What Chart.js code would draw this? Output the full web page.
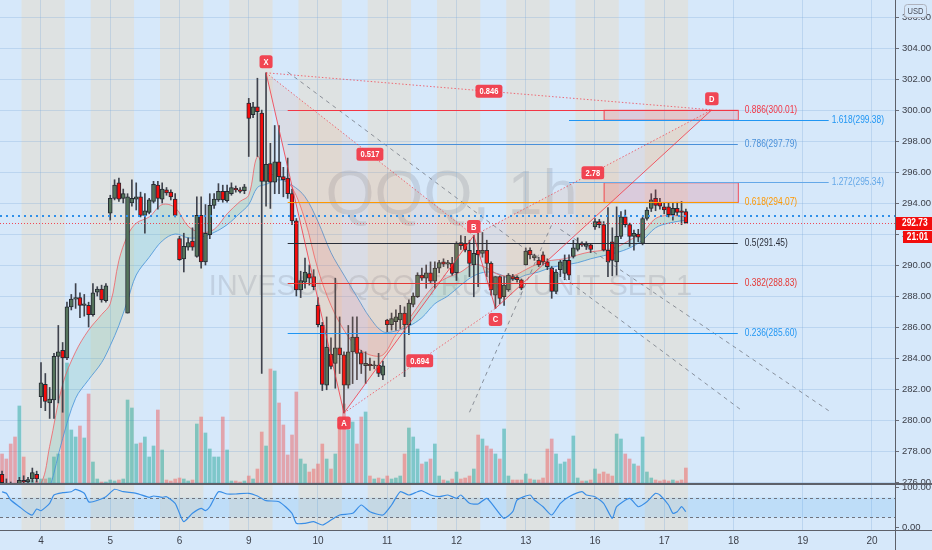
<!DOCTYPE html>
<html><head><meta charset="utf-8">
<script src="https://cdn.jsdelivr.net/npm/chart.js@4.4.1/dist/chart.umd.min.js"></script>
<style>
html,body{margin:0;padding:0;background:#d6e8fa;width:932px;height:550px;overflow:hidden}
canvas{position:absolute;left:0}
#main{top:0}
#osc{top:484px}
.ln{position:absolute;background:#5d6069}
</style></head><body>
<canvas id="main" width="932" height="484"></canvas>
<canvas id="osc" width="932" height="66"></canvas>
<div class="ln" style="left:0;top:483px;width:932px;height:2px"></div>
<div class="ln" style="left:0;top:530px;width:932px;height:1px"></div>
<div class="ln" style="left:895px;top:0;width:1px;height:550px"></div>
<script>
// ---------- DATA ----------
const FIRST_BAR = -9;          // bar number of the first candle (bar 0 = day "4", 04:00)
const BARS_PER_DAY = 16;       // 1h bars, extended session 04:00-20:00
const dayLabels = ['4','5','6','9','10','11','12','13','16','17','18','19','20'];
const priceTicks = [276,278,280,282,284,286,288,290,292,294,296,298,300,302,304,306];
const oscTicks = [0,100];
const oscBands = [25,75];
const sessionDays = 10;

const opens = [
 276.5,275.9,275.7,275.6,275.5,276.1,276.0,276.2,276.5,
 281.5,282.3,281.1,281.3,284.1,284.5,284.0,287.3,287.8,287.9,287.4,287.4,286.8,288.25,288.45,287.7,
 293.35,294.3,295.3,294.3,286.9,294.0,294.25,294.4,293.2,293.4,294.1,295.15,294.25,294.85,294.7,294.25,
 291.7,290.4,291.15,291.55,290.55,293.2,290.2,291.95,293.85,294.2,294.75,294.15,294.6,294.95,294.85,294.8,
 300.45,299.7,300.2,299.8,295.4,296.55,295.35,296.65,295.7,295.6,294.6,292.85,288.4,288.9,289.45,289.25,
 287.4,286.1,282.25,284.25,283.65,284.65,284.2,282.25,284.4,285.35,284.35,283.5,283.6,283.5,283.55,282.9,
 286.45,286.15,286.35,286.45,286.9,286.15,287.45,287.95,289.35,289.15,289.5,288.95,289.8,290.2,290.05,290.1,
 289.5,291.45,291.4,290.95,290.0,290.95,290.75,290.95,290.1,288.05,289.25,287.95,288.4,289.25,289.2,289.05,
 290.0,290.95,290.45,290.3,290.65,290.2,289.8,288.3,289.7,289.45,290.3,290.55,291.0,291.35,291.2,291.3,
 292.45,292.8,292.6,290.95,291.5,290.2,291.85,293.1,292.6,291.85,292.0,291.4,293.0,293.65,294.3,294.05,
 293.75,293.75,293.25,293.65,293.5,293.45];
const highs = [
 276.7,276.2,276.0,275.9,276.3,276.4,276.3,276.9,276.7,
 283.7,283.0,282.1,284.3,286.1,285.0,287.6,288.1,288.8,288.2,288.1,287.6,288.8,288.6,288.7,288.8,
 294.5,295.5,295.6,294.9,294.6,295.5,295.3,294.7,294.6,294.3,295.4,295.4,295.3,295.0,294.85,294.6,
 291.85,292.05,291.75,292.4,294.4,294.4,293.9,294.6,294.6,295.25,295.15,295.15,295.3,295.1,295.0,295.2,
 300.75,300.5,302.05,300.0,302.4,297.85,299.0,299.0,296.3,296.9,294.9,293.0,289.6,290.45,290.0,289.7,
 287.9,286.3,286.65,285.3,289.15,286.65,284.4,286.1,286.65,286.65,284.5,284.4,284.0,283.8,284.3,283.8,
 286.5,286.9,287.1,287.4,287.3,287.75,288.2,289.5,289.8,290.0,290.2,290.2,290.3,290.4,290.3,290.5,
 291.5,291.9,291.85,291.6,291.9,292.05,292.1,291.6,290.2,289.25,289.3,289.25,289.45,289.4,289.3,289.1,
 291.1,291.1,290.7,290.5,290.85,290.4,289.9,289.7,290.3,290.65,290.65,291.6,291.75,291.5,291.5,291.4,
 293.0,292.95,292.8,293.7,292.4,293.75,293.45,293.55,292.7,292.25,292.3,293.1,293.7,294.6,294.85,294.3,
 294.0,294.0,294.0,294.05,294.1,293.6];
const lows = [
 275.8,275.5,275.3,275.2,275.4,275.8,275.8,276.0,276.0,
 280.8,280.6,280.1,280.1,281.1,280.5,283.9,287.1,287.2,286.6,286.7,286.0,286.7,288.0,287.6,287.6,
 292.9,294.2,294.1,294.0,286.9,293.8,293.55,293.1,292.05,293.3,294.0,293.6,294.0,294.5,294.2,293.1,
 290.3,289.55,290.95,290.95,290.5,289.8,290.0,291.7,293.65,294.1,294.05,294.05,294.5,294.7,294.65,294.6,
 297.0,299.5,297.0,283.0,293.8,293.65,294.6,294.6,294.4,294.3,292.6,288.0,287.9,288.5,288.7,288.4,
 286.0,281.9,281.95,283.3,282.05,283.0,280.45,282.05,282.35,282.6,283.0,282.35,283.2,283.3,282.8,282.6,
 285.7,285.8,285.8,285.9,282.8,285.5,287.3,287.9,289.0,288.5,288.8,288.5,289.5,289.9,289.8,289.35,
 289.0,291.0,290.85,289.25,287.95,288.6,290.5,289.25,288.05,287.2,287.5,287.4,288.3,289.0,288.9,288.4,
 290.0,290.4,290.3,289.9,290.0,289.7,287.85,288.15,289.25,289.05,289.05,290.45,290.9,291.2,291.0,290.8,
 292.3,292.4,290.9,289.25,289.3,289.35,291.7,292.45,291.2,290.95,291.5,291.3,292.9,293.45,293.5,293.6,
 293.3,293.1,292.9,293.2,292.6,292.7];
const closes = [
 275.95,275.7,275.6,275.5,276.1,276.0,276.15,276.6,276.2,
 282.4,281.2,281.35,284.1,284.4,284.0,287.3,287.8,287.9,287.4,287.5,286.8,288.2,288.45,287.75,288.65,
 294.3,295.15,294.25,294.6,294.4,294.3,294.4,293.2,293.5,294.2,295.2,294.3,294.9,294.65,294.4,293.2,
 290.35,291.2,291.45,291.15,293.2,290.2,292.05,293.85,294.25,294.75,294.2,294.75,295.0,294.85,294.75,295.05,
 299.45,300.2,299.9,295.4,296.5,295.35,296.65,295.7,295.5,294.6,292.85,288.4,289.0,289.55,289.15,288.6,
 286.15,282.3,284.7,283.45,284.65,284.2,282.25,284.4,285.35,284.3,283.6,283.65,283.5,283.55,283.0,283.5,
 286.15,286.55,286.65,286.9,286.15,287.55,288.0,289.35,289.15,289.5,288.95,289.8,290.15,290.05,290.15,289.45,
 291.4,291.25,290.95,290.1,290.75,290.65,290.95,290.1,288.4,289.25,287.85,288.7,289.35,289.1,289.05,288.5,
 290.9,290.65,290.6,290.0,290.2,289.9,288.3,289.55,290.2,290.3,289.35,291.1,291.4,291.3,291.35,291.0,
 292.8,292.6,290.95,290.2,290.3,291.85,293.1,292.6,291.85,292.05,291.8,293.0,293.55,294.2,293.85,293.8,
 293.55,293.25,293.65,293.4,293.4,292.73];
const volumes = [
 3.0,2.5,4.0,4.7,7.8,2.7,0.4,0.4,0.3,
 0.5,0.5,0.6,2.7,3.0,9.4,12.1,5.4,4.7,5.8,4.6,9.0,2.2,0.5,0.2,0.2,
 0.4,0.3,0.4,0.5,8.4,7.6,4.0,4.1,4.7,2.7,3.8,7.4,3.4,0.4,0.3,0.5,
 0.6,0.5,0.3,0.4,6.0,6.7,5.1,3.5,2.7,2.7,6.7,3.4,0.3,0.3,0.2,0.3,
 0.8,0.5,1.5,5.2,3.8,11.5,11.3,8.1,5.9,2.9,4.9,9.2,2.5,2.0,1.2,1.5,
 2.0,4.0,2.5,1.5,3.0,6.0,8.0,5.4,6.2,4.0,6.7,7.2,0.8,0.5,0.6,0.5,
 0.8,0.5,0.6,0.8,3.0,5.6,4.7,3.5,2.0,2.2,2.5,4.0,0.8,0.4,0.3,0.5,
 1.2,0.5,0.6,0.8,1.5,4.9,4.5,3.8,3.5,3.0,2.5,5.5,0.8,0.4,0.4,0.4,
 1.0,0.5,0.4,0.4,0.6,3.5,4.5,3.0,2.0,2.2,2.5,4.8,0.6,0.3,0.3,0.4,
 1.5,1.0,1.2,1.0,0.8,5.0,4.5,3.0,2.5,2.0,1.8,4.7,1.2,0.6,0.4,0.3,
 0.4,0.3,0.4,0.3,0.4,1.6];

const maBars = [-9,-4,0,2,5,8,11,14,16,18,20,22,25,28,31,34,37,40,43,46,48,50,52,55,58,61,64,67,70,73,76,79,82,85,88,91,94,97,100,103,106,109,112,115,118,121,124,127,130,133,136,139,142,145,149];
const maFast = [274.6,275.0,275.9,278.3,282.3,284.4,285.8,286.8,287.5,290.3,291.9,292.7,293.1,293.9,293.7,292.5,292.1,292.3,293.3,294.1,294.5,297.0,296.0,295.7,295.0,292.9,289.7,287.4,285.8,284.7,284.2,284.2,285.5,286.5,287.7,288.7,289.2,289.55,290.05,289.8,289.35,289.3,289.7,290.1,290.3,290.4,290.65,290.85,290.95,291.15,291.6,292.1,293.0,293.2,293.1];
const maSlow = [273.0,273.5,274.5,275.6,278.8,281.4,282.6,283.7,284.8,286.1,287.7,289.35,290.5,291.55,292.0,291.75,291.8,292.1,292.6,293.35,293.9,295.0,295.2,295.5,295.15,294.4,292.8,290.8,289.35,287.95,286.6,285.7,285.75,286.05,286.6,287.5,288.0,288.7,289.3,289.55,289.4,289.05,289.35,289.55,289.85,290.0,290.15,290.4,290.6,290.8,291.1,291.6,292.4,292.7,292.9];

const oscBars = [-9,-8,-7,-5,-3,-2,-1,0,2,3,5,7,8,10,11,12,15,17,19,22,25,26,28,29,31,32,33,35,37,38,39,41,43,45,48,50,52,55,58,59,61,63,65,67,69,72,74,76,79,81,83,85,87,88,90,92,94,96,97,99,101,103,105,107,109,110,113,114,116,118,120,122,125,126,128,130,132,133,136,138,140,142,143,145,146,147,148,149];
const oscValues = [89.9,85.9,69.0,52.1,35.5,31.2,46.3,42.1,60.7,81.6,87.4,89.9,96.0,85.9,64.7,64.7,77.3,96.0,89.9,85.9,75.8,79.1,75.8,77.3,60.7,35.5,14.4,35.5,48.1,42.1,52.1,89.9,84.1,84.1,85.9,79.1,67.3,64.7,35.5,10.3,10.3,14.4,6.0,18.6,31.2,35.5,56.4,39.5,31.2,56.4,89.9,81.6,89.9,92.4,81.6,77.3,81.6,73.3,81.6,60.7,58.9,73.3,48.1,22.9,39.5,69.0,81.6,69.0,52.1,31.2,60.7,77.3,89.9,81.6,77.3,60.7,22.9,52.1,73.3,52.1,64.7,85.9,81.6,56.4,35.5,39.5,52.1,39.5];

// harmonic pattern XABCD
const patternNames  = ['X','A','B','C','D'];
const patternBars   = [52,70,100,105,155];
const patternPrices = [302.4,280.45,291.9,287.2,300.01];
const ratioTexts = ['0.517','0.694','2.78','0.846'];
const ratioFrom  = [0,1,2,0];   // X-B, A-C, B-D, X-D
const ratioTo    = [2,3,4,4];

// fib retracement levels
const fibLevels = ['0.886','0.786','0.618','0.5','0.382','0.236'];
const fibPrices = [300.01,297.79,294.07,291.45,288.83,285.60];
const fibColors = ['#f23645','#4a90d9','#ff9800','#2a2e39','#e53935','#2196f3'];
const fibStartBar = 57, fibEndBar = 161;
// fib extension levels
const extLevels = ['1.618','1.272'];
const extPrices = [299.38,295.34];
const extColors = ['#2196f3','#64a8e8'];
const extStartBar = 122, extEndBar = 182;
// PRZ boxes
const zoneLow  = [299.38,294.07];
const zoneHigh = [300.01,295.34];
const zoneStartBar = 130, zoneEndBar = 161;
// dashed trend lines
const guideFromBar = [57,99,120];
const guideFromPrice = [302.45,280.5,292.3];
const guideToBar = [162,118,182];
const guideToPrice = [280.6,292.6,280.6];

const lastPrice = 292.73;
const refPrice = 293.18;
const countdown = '21:01';
const symbolText = 'QQQ, 1h';
const descText = 'INVESCO QQQ TRUST, UNIT SER 1';

// ---------- VIEW ----------
const X_MIN = -9.473, X_MAX = 197.32;
const PRICE_MIN = 275.871, PRICE_MAX = 307.097;
const VOL_MAX = 48.4;
const OSC_MIN = -6.55, OSC_MAX = 109.32;
const FONT = '"Liberation Sans",Arial,sans-serif';
const NARROW = 0.84;
const AXIS_TEXT = '#3d404a';
const GRID = 'rgba(120,165,215,0.28)';
const EXT_BG = 'rgba(228,222,212,0.62)';
Chart.defaults.font.family = FONT;

const dayTicks = dayLabels.map((_, i) => i * BARS_PER_DAY);
const barX = i => FIRST_BAR + i;
const isUp = i => closes[i] >= opens[i];

function narrowText(ctx, text, x, y, align){
  ctx.save(); ctx.translate(x, y); ctx.scale(NARROW, 1);
  ctx.textAlign = align || 'left'; ctx.fillText(text, 0, 0); ctx.restore();
}
function drawSessions(chart){
  const {ctx, chartArea:a, scales:{x}} = chart;
  const lastBar = FIRST_BAR + closes.length - 1;
  ctx.save();
  ctx.beginPath(); ctx.rect(a.left, a.top, a.width, a.height); ctx.clip();
  ctx.fillStyle = EXT_BG;
  for (let d = 0; d < sessionDays; d++){
    const s = d*BARS_PER_DAY - 4.5, e = Math.min(d*BARS_PER_DAY + 5.5, lastBar + 0.5);
    const x0 = x.getPixelForValue(s), x1 = x.getPixelForValue(e);
    ctx.fillRect(x0, a.top, x1 - x0, a.height);
  }
  ctx.restore();
}
function rr(ctx,x,y,w,h,r){
  ctx.beginPath(); ctx.moveTo(x+r,y); ctx.arcTo(x+w,y,x+w,y+h,r); ctx.arcTo(x+w,y+h,x,y+h,r);
  ctx.arcTo(x,y+h,x,y,r); ctx.arcTo(x,y,x+w,y,r); ctx.closePath();
}
function tag(ctx, text, cx, cy){
  ctx.font = 'bold 9px ' + FONT;
  const w = Math.max(ctx.measureText(text).width * NARROW + 8, 12), h = 13;
  rr(ctx, cx - w/2, cy - h/2, w, h, 2.5);
  ctx.fillStyle = 'rgba(242,54,69,0.92)'; ctx.fill();
  ctx.fillStyle = '#fff'; ctx.textBaseline = 'middle';
  narrowText(ctx, text, cx, cy + 0.5, 'center');
}

const bgPlugin = {
  id:'bg',
  beforeDraw(chart){
    drawSessions(chart);
    const {ctx, chartArea:a} = chart;
    const cx = (a.left + a.right)/2, cy = (a.top + a.bottom)/2;
    ctx.save();
    ctx.fillStyle = 'rgba(110,115,130,0.2)';
    ctx.textAlign = 'center'; ctx.textBaseline = 'middle';
    ctx.font = '63px ' + FONT; ctx.fillText(symbolText, cx + 4, cy - 45);
    ctx.font = '29px ' + FONT; ctx.fillText(descText, cx + 3, cy + 45);
    ctx.restore();
  }
};

const annoPlugin = {
  id:'anno',
  afterDatasetsDraw(chart){
    const {ctx, chartArea:a, scales:{x, y}} = chart;
    const X = b => x.getPixelForValue(b), Y = p => y.getPixelForValue(p);
    ctx.save();
    ctx.beginPath(); ctx.rect(a.left, a.top, a.width, a.height); ctx.clip();
    // PRZ boxes
    for (let i = 0; i < zoneLow.length; i++){
      const x0 = X(zoneStartBar), x1 = X(zoneEndBar), y0 = Y(zoneHigh[i]), y1 = Y(zoneLow[i]);
      ctx.fillStyle = 'rgba(242,54,69,0.16)'; ctx.fillRect(x0, y0, x1-x0, y1-y0);
      ctx.strokeStyle = 'rgba(242,54,69,0.9)'; ctx.lineWidth = 1; ctx.strokeRect(x0+0.5, y0+0.5, x1-x0, y1-y0);
    }
    // pattern triangles
    const P = patternBars.map((b,i)=>[X(b), Y(patternPrices[i])]);
    ctx.fillStyle = 'rgba(240,140,80,0.12)';
    [[0,1,2],[2,3,4]].forEach(t => {
      ctx.beginPath(); ctx.moveTo(...P[t[0]]); ctx.lineTo(...P[t[1]]); ctx.lineTo(...P[t[2]]); ctx.closePath(); ctx.fill();
    });
    // dashed guide lines
    ctx.strokeStyle = 'rgba(110,115,125,0.75)'; ctx.lineWidth = 1; ctx.setLineDash([4,4]);
    for (let i = 0; i < guideFromBar.length; i++){
      ctx.beginPath(); ctx.moveTo(X(guideFromBar[i]), Y(guideFromPrice[i])); ctx.lineTo(X(guideToBar[i]), Y(guideToPrice[i])); ctx.stroke();
    }
    ctx.setLineDash([]);
    // fib retracement
    ctx.font = '10px ' + FONT; ctx.textBaseline = 'middle';
    for (let i = 0; i < fibLevels.length; i++){
      const yy = Math.round(Y(fibPrices[i])) + 0.5;
      ctx.strokeStyle = fibColors[i]; ctx.lineWidth = 1;
      ctx.beginPath(); ctx.moveTo(X(fibStartBar), yy); ctx.lineTo(X(fibEndBar), yy); ctx.stroke();
      ctx.fillStyle = fibColors[i];
      narrowText(ctx, fibLevels[i] + '(' + fibPrices[i].toFixed(2) + ')', X(fibEndBar) + 7, yy);
    }
    for (let i = 0; i < extLevels.length; i++){
      const yy = Math.round(Y(extPrices[i])) + 0.5;
      ctx.strokeStyle = extColors[i]; ctx.lineWidth = 1;
      ctx.beginPath(); ctx.moveTo(X(extStartBar), yy); ctx.lineTo(X(extEndBar), yy); ctx.stroke();
      ctx.fillStyle = extColors[i];
      narrowText(ctx, extLevels[i] + '(' + extPrices[i].toFixed(2) + ')', X(extEndBar) + 3, yy);
    }
    // pattern legs
    ctx.strokeStyle = 'rgba(242,54,69,0.8)'; ctx.lineWidth = 1;
    ctx.beginPath(); ctx.moveTo(...P[0]); for (let i = 1; i < P.length; i++) ctx.lineTo(...P[i]); ctx.stroke();
    ctx.setLineDash([1.5,2]); ctx.strokeStyle = 'rgba(242,54,69,0.7)';
    for (let i = 0; i < ratioFrom.length; i++){
      ctx.beginPath(); ctx.moveTo(...P[ratioFrom[i]]); ctx.lineTo(...P[ratioTo[i]]); ctx.stroke();
    }
    ctx.setLineDash([]);
    // last price lines
    ctx.lineWidth = 2; ctx.strokeStyle = '#2f8fe8'; ctx.setLineDash([2,4]);
    let yy = Math.round(Y(refPrice));
    ctx.beginPath(); ctx.moveTo(a.left, yy); ctx.lineTo(a.right, yy); ctx.stroke();
    ctx.lineWidth = 1; ctx.strokeStyle = 'rgba(242,54,69,0.9)'; ctx.setLineDash([1,2]);
    yy = Math.round(Y(lastPrice)) + 0.5;
    ctx.beginPath(); ctx.moveTo(a.left, yy); ctx.lineTo(a.right, yy); ctx.stroke();
    ctx.setLineDash([]);
    // labels
    for (let i = 0; i < ratioFrom.length; i++){
      const p = P[ratioFrom[i]], q = P[ratioTo[i]];
      tag(ctx, ratioTexts[i], (p[0]+q[0])/2, (p[1]+q[1])/2);
    }
    const off = [-11, 10, -9, 11, -11];
    for (let i = 0; i < P.length; i++) tag(ctx, patternNames[i], P[i][0], P[i][1] + off[i]);
    ctx.restore();
  },
  afterDraw(chart){
    const {ctx, chartArea:a, scales:{y}} = chart;
    const yy = y.getPixelForValue(lastPrice);
    ctx.save();
    ctx.fillStyle = '#f20d0d';
    ctx.fillRect(a.right + 1, Math.round(yy) - 6, 932 - a.right - 1, 13);
    ctx.fillRect(a.right + 8, Math.round(yy) + 8, 932 - a.right - 8, 12);
    ctx.fillStyle = '#fff'; ctx.font = 'bold 10px ' + FONT; ctx.textBaseline = 'middle';
    narrowText(ctx, lastPrice.toFixed(2), a.right + 7, Math.round(yy) + 0.5, 'left');
    narrowText(ctx, countdown, (a.right + 8 + 932)/2, Math.round(yy) + 14, 'center');
    // currency tag
    rr(ctx, a.right + 9.5, 4.5, 22, 13, 3);
    ctx.fillStyle = '#d6e8fa'; ctx.fill();
    ctx.strokeStyle = '#aeb2bd'; ctx.lineWidth = 1; ctx.stroke();
    ctx.fillStyle = '#4a4e59'; ctx.font = '9px ' + FONT;
    narrowText(ctx, 'USD', a.right + 20.5, 11.5, 'center');
    ctx.restore();
  }
};

new Chart(document.getElementById('main'), {
  type: 'bar',
  data: { datasets: [
    { type:'bar', label:'Volume', yAxisID:'yv', xAxisID:'x', grouped:false, barThickness:3, order:10,
      data: volumes.map((v,i)=>({x:barX(i), y:v})),
      backgroundColor: volumes.map((v,i)=> isUp(i) ? 'rgba(38,166,154,0.5)' : 'rgba(239,83,80,0.45)') },
    { type:'line', label:'MA slow', yAxisID:'y', xAxisID:'x', order:6,
      data: maBars.map((b,i)=>({x:b, y:maSlow[i]})),
      borderColor:'rgba(70,150,225,0.85)', borderWidth:1, pointRadius:0, tension:0.35, fill:false },
    { type:'line', label:'MA fast', yAxisID:'y', xAxisID:'x', order:5,
      data: maBars.map((b,i)=>({x:b, y:maFast[i]})),
      borderColor:'rgba(240,95,100,0.8)', borderWidth:1, pointRadius:0, tension:0.35,
      fill: { target:'-1', above:'rgba(80,180,150,0.18)', below:'rgba(242,70,80,0.12)' } },
    { type:'bar', label:'Wick', yAxisID:'y', xAxisID:'x', grouped:false, barThickness:1, order:3,
      data: closes.map((c,i)=>({x:barX(i), y:[lows[i], highs[i]]})),
      backgroundColor:'#3f434d' },
    { type:'bar', label:'Body', yAxisID:'y', xAxisID:'x', grouped:false, barThickness:4, order:2, minBarLength:1,
      borderSkipped:false, borderWidth:1, borderColor:'#262a33',
      data: closes.map((c,i)=>({x:barX(i), y:[opens[i], c]})),
      backgroundColor: closes.map((c,i)=> isUp(i) ? '#55745c' : '#f40b0b') }
  ]},
  options: {
    responsive:false, animation:false, events:[],
    layout:{padding:0},
    plugins:{legend:{display:false}, tooltip:{enabled:false}},
    scales:{
      x:{ type:'linear', position:'bottom', min:X_MIN, max:X_MAX, offset:false,
          afterBuildTicks: s => { s.ticks = dayTicks.map(v=>({value:v})); },
          ticks:{display:false}, grid:{color:GRID, drawTicks:false, offset:false}, border:{display:false},
          afterFit: s => { s.height = 0; s.paddingLeft = 0; s.paddingRight = 0; } },
      y:{ type:'linear', position:'right', min:PRICE_MIN, max:PRICE_MAX,
          afterBuildTicks: s => { s.ticks = priceTicks.map(v=>({value:v})); },
          ticks:{ callback: v => Number(v).toFixed(2), font:{family:FONT, size:9.5}, color:AXIS_TEXT, padding:3 },
          grid:{ color:GRID, tickColor:'#6a6d78', tickLength:4 }, border:{display:false},
          afterFit: s => { s.width = 37; s.paddingTop = 0; s.paddingBottom = 0; } },
      yv:{ type:'linear', display:false, min:0, max:VOL_MAX }
    }
  },
  plugins:[bgPlugin, annoPlugin]
});

const oscBgPlugin = {
  id:'oscbg',
  beforeDraw(chart){
    drawSessions(chart);
  },
  beforeDatasetsDraw(chart){
    const {ctx, chartArea:a, scales:{y}} = chart;
    const y0 = y.getPixelForValue(oscBands[1]), y1 = y.getPixelForValue(oscBands[0]);
    ctx.save();
    ctx.fillStyle = 'rgba(33,150,243,0.13)';
    ctx.fillRect(a.left, y0, a.width, y1 - y0);
    ctx.strokeStyle = '#6f737e'; ctx.lineWidth = 1; ctx.setLineDash([3,3]);
    [y0, y1].forEach(v => { ctx.beginPath(); ctx.moveTo(a.left, Math.round(v)+0.5); ctx.lineTo(a.right, Math.round(v)+0.5); ctx.stroke(); });
    ctx.restore();
  }
};

new Chart(document.getElementById('osc'), {
  type:'line',
  data:{ datasets:[{ data: oscBars.map((b,i)=>({x:b, y:oscValues[i]})),
    borderColor:'#3a8ee6', borderWidth:1.2, pointRadius:0, tension:0.2, fill:false }]},
  options:{
    responsive:false, animation:false, events:[],
    layout:{padding:0},
    plugins:{legend:{display:false}, tooltip:{enabled:false}},
    scales:{
      x:{ type:'linear', position:'bottom', min:X_MIN, max:X_MAX, offset:false,
          afterBuildTicks: s => { s.ticks = dayTicks.map(v=>({value:v})); },
          ticks:{ autoSkip:false, maxRotation:0, callback: v => dayLabels[Math.round(v / BARS_PER_DAY)],
                  font:{family:FONT, size:10}, color:AXIS_TEXT, padding:5 },
          grid:{ color:GRID, drawTicks:false }, border:{display:false},
          afterFit: s => { s.height = 20; s.paddingLeft = 0; s.paddingRight = 0; } },
      y:{ type:'linear', position:'right', min:OSC_MIN, max:OSC_MAX,
          afterBuildTicks: s => { s.ticks = oscTicks.map(v=>({value:v})); },
          ticks:{ callback: v => Number(v).toFixed(2), font:{family:FONT, size:9.5}, color:AXIS_TEXT, padding:3 },
          grid:{ color:'rgba(0,0,0,0)', tickColor:'#6a6d78', tickLength:4 }, border:{display:false},
          afterFit: s => { s.width = 37; s.paddingTop = 0; s.paddingBottom = 0; } }
    }
  },
  plugins:[oscBgPlugin]
});
</script>
</body></html>
